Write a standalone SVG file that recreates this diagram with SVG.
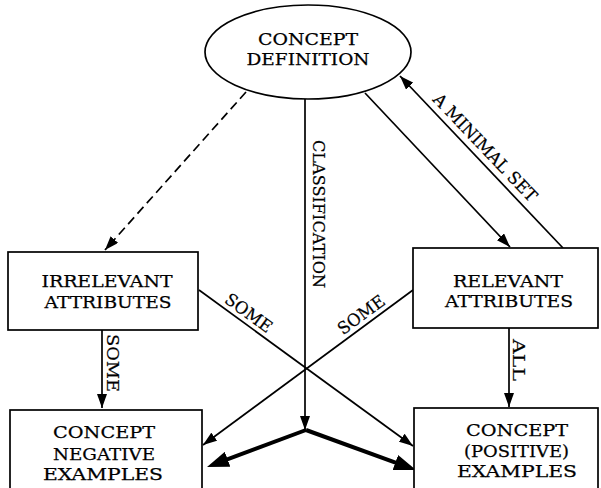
<svg xmlns="http://www.w3.org/2000/svg" width="601" height="488" viewBox="0 0 601 488">
<style>
.node{fill:#fff;stroke:#000;stroke-width:1.7}
.t{font-family:"DejaVu Serif","Liberation Serif",serif;font-size:17px;fill:#000;stroke:#000;stroke-width:0.25;text-anchor:middle}
.l{font-family:"DejaVu Serif","Liberation Serif",serif;font-size:17px;fill:#000;stroke:#000;stroke-width:0.2;text-anchor:middle}
.c{fill:none;stroke:#000;stroke-width:1.7}
.thick{fill:none;stroke:#000;stroke-width:4}
</style>
<defs>
<marker id="ah" viewBox="0 0 14 10" refX="14" refY="5" markerWidth="14" markerHeight="10" markerUnits="userSpaceOnUse" orient="auto"><path d="M0,0 L14,5 L0,10 z" fill="#000"/></marker>
<marker id="ahb" viewBox="0 0 22 16" refX="14" refY="8" markerWidth="22" markerHeight="16" markerUnits="userSpaceOnUse" orient="auto"><path d="M0,0 L22,8 L0,16 z" fill="#000"/></marker>
</defs>
<rect width="601" height="488" fill="#fff"/>
<g id="connectors">
<path class="c" d="M246,92 L105,250" stroke-dasharray="9 5" stroke-width="2.2" marker-end="url(#ah)"/>
<path class="c" d="M305,99 L305,430" stroke-width="2.2" marker-end="url(#ah)"/>
<path class="thick" d="M306,430 L214.5,464.2" marker-end="url(#ahb)"/>
<path class="thick" d="M306,430 L408.5,467.3" marker-end="url(#ahb)"/>
<path class="c" d="M365,93 L510,247" marker-end="url(#ah)"/>
<path class="c" d="M563,248 L400,76" marker-end="url(#ah)"/>
<path class="c" d="M199,290 L413,446" marker-end="url(#ah)"/>
<path class="c" d="M413,290 L203,445" marker-end="url(#ah)"/>
<path class="c" d="M102,330 L102,408" marker-end="url(#ah)"/>
<path class="c" d="M509,328 L509,407" marker-end="url(#ah)"/>
<text class="l" transform="translate(313,214) rotate(90)" textLength="148" lengthAdjust="spacingAndGlyphs">CLASSIFICATION</text>
<text class="l" transform="translate(481,151.7) rotate(46.4)" textLength="142" lengthAdjust="spacingAndGlyphs">A MINIMAL SET</text>
<text class="l" transform="translate(245.2,317.6) rotate(36.1)" textLength="54" lengthAdjust="spacingAndGlyphs">SOME</text>
<text class="l" transform="translate(364.7,319.5) rotate(-36.4)" textLength="54" lengthAdjust="spacingAndGlyphs">SOME</text>
<text class="l" transform="translate(107,363) rotate(90)" textLength="58" lengthAdjust="spacingAndGlyphs">SOME</text>
<text class="l" transform="translate(513,360) rotate(90)" textLength="42" lengthAdjust="spacingAndGlyphs">ALL</text>
</g>
<g id="concept-definition">
<ellipse class="node" cx="308" cy="52" rx="103" ry="47"/>
<text class="t" x="308" y="45" textLength="100" lengthAdjust="spacingAndGlyphs">CONCEPT</text>
<text class="t" x="308" y="65" textLength="123" lengthAdjust="spacingAndGlyphs">DEFINITION</text>
</g>
<g id="irrelevant-attributes">
<rect class="node" x="8" y="252" width="190" height="78"/>
<text class="t" x="107" y="287" textLength="131" lengthAdjust="spacingAndGlyphs">IRRELEVANT</text>
<text class="t" x="108" y="308" textLength="127" lengthAdjust="spacingAndGlyphs">ATTRIBUTES</text>
</g>
<g id="relevant-attributes">
<rect class="node" x="413" y="248" width="185" height="80"/>
<text class="t" x="508" y="287" textLength="110" lengthAdjust="spacingAndGlyphs">RELEVANT</text>
<text class="t" x="509" y="307" textLength="128" lengthAdjust="spacingAndGlyphs">ATTRIBUTES</text>
</g>
<g id="concept-negative-examples">
<rect class="node" x="10" y="410" width="192" height="90"/>
<text class="t" x="104" y="438" textLength="102" lengthAdjust="spacingAndGlyphs">CONCEPT</text>
<text class="t" x="104" y="460" textLength="102" lengthAdjust="spacingAndGlyphs">NEGATIVE</text>
<text class="t" x="103" y="480" textLength="120" lengthAdjust="spacingAndGlyphs">EXAMPLES</text>
</g>
<g id="concept-positive-examples">
<rect class="node" x="414" y="408" width="184" height="92"/>
<text class="t" x="517" y="436" textLength="102" lengthAdjust="spacingAndGlyphs">CONCEPT</text>
<text class="t" x="516.5" y="457" textLength="105" lengthAdjust="spacingAndGlyphs">(POSITIVE)</text>
<text class="t" x="517" y="477" textLength="120" lengthAdjust="spacingAndGlyphs">EXAMPLES</text>
</g>
</svg>
